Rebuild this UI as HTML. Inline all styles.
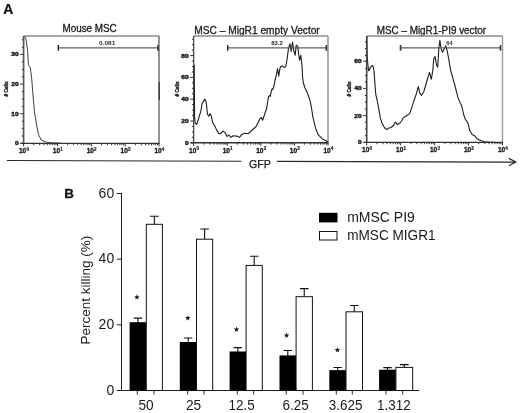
<!DOCTYPE html>
<html><head><meta charset="utf-8"><style>
html,body{margin:0;padding:0;background:#fff;}
body{width:520px;height:413px;overflow:hidden;}
svg{display:block;font-family:"Liberation Sans", sans-serif;will-change:transform;}
</style></head><body>
<svg width="520" height="413" viewBox="0 0 520 413">
<rect width="520" height="413" fill="#fff"/>
<text x="89.6" y="31.8" font-size="10" text-anchor="middle" textLength="54.2" lengthAdjust="spacingAndGlyphs" fill="#1a1a1a" stroke="#1a1a1a" stroke-width="0.3">Mouse MSC</text>
<path d="M23.6 36.0H159.0" fill="none" stroke="#8c8c8c" stroke-width="1.4"/>
<path d="M159.0 36.0V143.4" fill="none" stroke="#666" stroke-width="1.4"/>
<polyline points="23.8,36.3 24.8,36.9 26.2,40.2 27.6,51.2 28.4,64.8 30.3,67.6 31.7,78.5 33,95 34.4,111.3 36.6,125 38.5,134.6 41.3,140 45.4,142 50.8,142.8 60,143.1" fill="none" stroke="#1e1e1e" stroke-width="0.85" stroke-linejoin="round"/>
<path d="M23.6 36.0V143.70000000000002" fill="none" stroke="#5a5a5a" stroke-width="1.7"/>
<path d="M20.6 143.4H159.5" fill="none" stroke="#333" stroke-width="1.4"/>
<text x="18.6" y="145.4" font-size="5.4" font-weight="bold" text-anchor="end" textLength="3.7" lengthAdjust="spacingAndGlyphs" fill="#1a1a1a" stroke="#1a1a1a" stroke-width="0.4">0</text>
<text x="18.6" y="115.8" font-size="5.4" font-weight="bold" text-anchor="end" textLength="7.4" lengthAdjust="spacingAndGlyphs" fill="#1a1a1a" stroke="#1a1a1a" stroke-width="0.4">10</text>
<text x="18.6" y="86.1" font-size="5.4" font-weight="bold" text-anchor="end" textLength="7.4" lengthAdjust="spacingAndGlyphs" fill="#1a1a1a" stroke="#1a1a1a" stroke-width="0.4">20</text>
<text x="18.6" y="56.4" font-size="5.4" font-weight="bold" text-anchor="end" textLength="7.4" lengthAdjust="spacingAndGlyphs" fill="#1a1a1a" stroke="#1a1a1a" stroke-width="0.4">30</text>
<text x="22.6" y="153.3" font-size="6.5" font-weight="bold" text-anchor="middle" fill="#1a1a1a" stroke="#1a1a1a" stroke-width="0.3">10</text>
<text x="26.4" y="150.9" font-size="4.5" font-weight="bold" fill="#1a1a1a" stroke="#1a1a1a" stroke-width="0.2">0</text>
<text x="56.45" y="153.3" font-size="6.5" font-weight="bold" text-anchor="middle" fill="#1a1a1a" stroke="#1a1a1a" stroke-width="0.3">10</text>
<text x="60.25" y="150.9" font-size="4.5" font-weight="bold" fill="#1a1a1a" stroke="#1a1a1a" stroke-width="0.2">1</text>
<text x="90.3" y="153.3" font-size="6.5" font-weight="bold" text-anchor="middle" fill="#1a1a1a" stroke="#1a1a1a" stroke-width="0.3">10</text>
<text x="94.1" y="150.9" font-size="4.5" font-weight="bold" fill="#1a1a1a" stroke="#1a1a1a" stroke-width="0.2">2</text>
<text x="124.15" y="153.3" font-size="6.5" font-weight="bold" text-anchor="middle" fill="#1a1a1a" stroke="#1a1a1a" stroke-width="0.3">10</text>
<text x="127.95" y="150.9" font-size="4.5" font-weight="bold" fill="#1a1a1a" stroke="#1a1a1a" stroke-width="0.2">3</text>
<text x="158" y="153.3" font-size="6.5" font-weight="bold" text-anchor="middle" fill="#1a1a1a" stroke="#1a1a1a" stroke-width="0.3">10</text>
<text x="161.8" y="150.9" font-size="4.5" font-weight="bold" fill="#1a1a1a" stroke="#1a1a1a" stroke-width="0.2">4</text>
<path d="M20.1 143.4H23.6M20.1 113.8H23.6M20.1 84.1H23.6M20.1 54.4H23.6M21.8 136H23.6M21.8 128.6H23.6M21.8 121.2H23.6M21.8 106.4H23.6M21.8 99H23.6M21.8 91.6H23.6M21.8 76.8H23.6M21.8 69.4H23.6M21.8 62H23.6M21.8 47.2H23.6M21.8 39.8H23.6M23.6 143.4V146.4M33.79 143.4V145.2M39.75 143.4V145.2M43.98 143.4V145.2M47.26 143.4V145.2M49.94 143.4V145.2M52.21 143.4V145.2M54.17 143.4V145.2M55.9 143.4V145.2M57.45 143.4V146.4M67.64 143.4V145.2M73.6 143.4V145.2M77.83 143.4V145.2M81.11 143.4V145.2M83.79 143.4V145.2M86.06 143.4V145.2M88.02 143.4V145.2M89.75 143.4V145.2M91.3 143.4V146.4M101.49 143.4V145.2M107.45 143.4V145.2M111.68 143.4V145.2M114.96 143.4V145.2M117.64 143.4V145.2M119.91 143.4V145.2M121.87 143.4V145.2M123.6 143.4V145.2M125.15 143.4V146.4M135.34 143.4V145.2M141.3 143.4V145.2M145.53 143.4V145.2M148.81 143.4V145.2M151.49 143.4V145.2M153.76 143.4V145.2M155.72 143.4V145.2M157.45 143.4V145.2M159 143.4V146.4" fill="none" stroke="#333" stroke-width="1"/>
<text transform="translate(7.7,89) rotate(-90)" font-size="4.6" font-weight="bold" text-anchor="middle" textLength="15" lengthAdjust="spacingAndGlyphs" fill="#1a1a1a" stroke="#1a1a1a" stroke-width="0.35"># Cells</text>
<path d="M58.3 47.9H158.0" fill="none" stroke="#5e5e5e" stroke-width="1.35"/>
<path d="M58.3 45V50.8M158.0 45V50.8" fill="none" stroke="#333" stroke-width="1.6"/>
<text x="107.2" y="44.9" font-size="5.6" font-weight="bold" text-anchor="middle" textLength="16.2" lengthAdjust="spacingAndGlyphs" fill="#2a2a2a">0.081</text>
<text x="257.0" y="33.6" font-size="10" text-anchor="middle" textLength="125.5" lengthAdjust="spacingAndGlyphs" fill="#1a1a1a" stroke="#1a1a1a" stroke-width="0.3">MSC – MigR1 empty Vector</text>
<path d="M193.7 36.0H328.0" fill="none" stroke="#8c8c8c" stroke-width="1.4"/>
<path d="M328.0 36.0V142.8" fill="none" stroke="#888" stroke-width="1.4"/>
<polyline points="194.2,65 194.6,118.3 195.4,123.6 196.7,124.3 198.1,120.3 199.4,115.6 200.8,111.5 202.1,103.5 203.5,101.4 204.8,99.2 206.2,102.1 207.5,114.2 208.8,116.2 210.2,113.6 211.3,116.2 212.6,122.3 214.9,126.3 216.9,130.4 218.9,133.7 221,133.1 223.4,131 225.3,133.1 227,136.4 229,135.1 231,137.4 233.1,135.8 235.8,136 237.8,136.4 239.5,137.4 241.8,134.4 244.5,133.3 247.9,133.7 250.6,131.7 253.3,129 255.8,127 258.4,121.9 260.1,118.5 261.4,117.6 262.6,120.2 263.8,116.8 265.2,112.5 266.5,109.2 267.7,101.5 268.6,96.4 269.4,95.6 270.3,96.4 271.1,92.2 272,88.8 272.8,89.7 273.6,87.1 274.5,82.9 275.3,79.5 276.2,75.3 277,71.9 277.5,68.5 278.2,72.7 278.7,76.1 279.6,70.2 280.4,66.8 282.1,65.9 284.2,67.6 285.5,66.8 286.4,63.4 287.2,58 288.6,47.6 290.1,43.8 291.1,51.4 292.6,42 293.6,50.2 295.2,55.3 296.2,45.1 297.7,46.4 299.5,60.3 300.8,55.3 302,65.4 302.5,76 303.2,82.5 305,88 307,92 308.6,96.5 310.3,101.6 311.6,108.5 313,117.6 315.6,128.2 318.3,134.9 322.3,138.9 326.3,141 327.8,142" fill="none" stroke="#1e1e1e" stroke-width="1.1" stroke-linejoin="round"/>
<path d="M193.7 36.0V143.10000000000002" fill="none" stroke="#2a2a2a" stroke-width="1.1"/>
<path d="M190.7 142.8H328.5" fill="none" stroke="#333" stroke-width="1.4"/>
<text x="188.7" y="144.8" font-size="5.4" font-weight="bold" text-anchor="end" textLength="3.7" lengthAdjust="spacingAndGlyphs" fill="#1a1a1a" stroke="#1a1a1a" stroke-width="0.4">0</text>
<text x="188.7" y="123" font-size="5.4" font-weight="bold" text-anchor="end" textLength="7.4" lengthAdjust="spacingAndGlyphs" fill="#1a1a1a" stroke="#1a1a1a" stroke-width="0.4">20</text>
<text x="188.7" y="101.2" font-size="5.4" font-weight="bold" text-anchor="end" textLength="7.4" lengthAdjust="spacingAndGlyphs" fill="#1a1a1a" stroke="#1a1a1a" stroke-width="0.4">40</text>
<text x="188.7" y="79.4" font-size="5.4" font-weight="bold" text-anchor="end" textLength="7.4" lengthAdjust="spacingAndGlyphs" fill="#1a1a1a" stroke="#1a1a1a" stroke-width="0.4">60</text>
<text x="188.7" y="57.6" font-size="5.4" font-weight="bold" text-anchor="end" textLength="7.4" lengthAdjust="spacingAndGlyphs" fill="#1a1a1a" stroke="#1a1a1a" stroke-width="0.4">80</text>
<text x="192.7" y="152.7" font-size="6.5" font-weight="bold" text-anchor="middle" fill="#1a1a1a" stroke="#1a1a1a" stroke-width="0.3">10</text>
<text x="196.5" y="150.3" font-size="4.5" font-weight="bold" fill="#1a1a1a" stroke="#1a1a1a" stroke-width="0.2">0</text>
<text x="226.27" y="152.7" font-size="6.5" font-weight="bold" text-anchor="middle" fill="#1a1a1a" stroke="#1a1a1a" stroke-width="0.3">10</text>
<text x="230.07" y="150.3" font-size="4.5" font-weight="bold" fill="#1a1a1a" stroke="#1a1a1a" stroke-width="0.2">1</text>
<text x="259.85" y="152.7" font-size="6.5" font-weight="bold" text-anchor="middle" fill="#1a1a1a" stroke="#1a1a1a" stroke-width="0.3">10</text>
<text x="263.65" y="150.3" font-size="4.5" font-weight="bold" fill="#1a1a1a" stroke="#1a1a1a" stroke-width="0.2">2</text>
<text x="293.43" y="152.7" font-size="6.5" font-weight="bold" text-anchor="middle" fill="#1a1a1a" stroke="#1a1a1a" stroke-width="0.3">10</text>
<text x="297.23" y="150.3" font-size="4.5" font-weight="bold" fill="#1a1a1a" stroke="#1a1a1a" stroke-width="0.2">3</text>
<text x="327" y="152.7" font-size="6.5" font-weight="bold" text-anchor="middle" fill="#1a1a1a" stroke="#1a1a1a" stroke-width="0.3">10</text>
<text x="330.8" y="150.3" font-size="4.5" font-weight="bold" fill="#1a1a1a" stroke="#1a1a1a" stroke-width="0.2">4</text>
<path d="M190.2 142.8H193.7M190.2 121H193.7M190.2 99.2H193.7M190.2 77.4H193.7M190.2 55.6H193.7M191.89999999999998 137.35H193.7M191.89999999999998 131.9H193.7M191.89999999999998 126.45H193.7M191.89999999999998 115.55H193.7M191.89999999999998 110.1H193.7M191.89999999999998 104.65H193.7M191.89999999999998 93.75H193.7M191.89999999999998 88.3H193.7M191.89999999999998 82.85H193.7M191.89999999999998 71.95H193.7M191.89999999999998 66.5H193.7M191.89999999999998 61.05H193.7M191.89999999999998 50.15H193.7M191.89999999999998 44.7H193.7M191.89999999999998 39.25H193.7M193.7 142.8V145.8M203.81 142.8V144.6M209.72 142.8V144.6M213.91 142.8V144.6M217.17 142.8V144.6M219.83 142.8V144.6M222.07 142.8V144.6M224.02 142.8V144.6M225.74 142.8V144.6M227.27 142.8V145.8M237.38 142.8V144.6M243.29 142.8V144.6M247.49 142.8V144.6M250.74 142.8V144.6M253.4 142.8V144.6M255.65 142.8V144.6M257.6 142.8V144.6M259.31 142.8V144.6M260.85 142.8V145.8M270.96 142.8V144.6M276.87 142.8V144.6M281.06 142.8V144.6M284.32 142.8V144.6M286.98 142.8V144.6M289.22 142.8V144.6M291.17 142.8V144.6M292.89 142.8V144.6M294.43 142.8V145.8M304.53 142.8V144.6M310.44 142.8V144.6M314.64 142.8V144.6M317.89 142.8V144.6M320.55 142.8V144.6M322.8 142.8V144.6M324.75 142.8V144.6M326.46 142.8V144.6M328 142.8V145.8" fill="none" stroke="#333" stroke-width="1"/>
<text transform="translate(179.3,89) rotate(-90)" font-size="4.6" font-weight="bold" text-anchor="middle" textLength="15" lengthAdjust="spacingAndGlyphs" fill="#1a1a1a" stroke="#1a1a1a" stroke-width="0.35"># Cells</text>
<path d="M227.7 47.8H326.3" fill="none" stroke="#5e5e5e" stroke-width="1.35"/>
<path d="M227.7 44.9V50.7M326.3 44.9V50.7" fill="none" stroke="#333" stroke-width="1.6"/>
<text x="277.1" y="44.8" font-size="5.6" font-weight="bold" text-anchor="middle" textLength="11.6" lengthAdjust="spacingAndGlyphs" fill="#2a2a2a">83.2</text>
<text x="431.4" y="33.6" font-size="10" text-anchor="middle" textLength="109.4" lengthAdjust="spacingAndGlyphs" fill="#1a1a1a" stroke="#1a1a1a" stroke-width="0.3">MSC – MigR1-PI9 vector</text>
<path d="M366.7 36.0H502.5" fill="none" stroke="#8c8c8c" stroke-width="1.4"/>
<path d="M502.5 36.0V142.4" fill="none" stroke="#9a9a9a" stroke-width="1.4"/>
<polyline points="366.8,36.5 367,50 367.3,58 367.8,64 368.6,70.6 369.3,70.2 370.4,67.3 372.2,65.5 373.1,66.4 374,70.9 374.9,83.6 375.8,94.5 377.1,100 378.5,107.3 380.4,118.2 382.2,123.6 384.9,128.2 386.7,129.6 388.5,128.2 391.3,127.3 393.5,125.5 394.9,122.7 395.8,122.2 397.1,124.5 399.5,123.6 401.5,121 403.2,117.9 406.5,115.7 409.7,113.6 411.9,107.1 414,100.7 416.2,94.2 418.3,86.6 419.8,93.1 421.6,95.3 423.7,92 425.9,84.5 428,76.9 429.5,72.6 431.3,79.1 432.8,70.5 433.8,58.6 435.1,56.5 436.6,65.1 437.7,67.3 438.8,48.9 439.9,40.3 440.9,47.9 442.5,52.2 444.2,48.9 445.7,45.7 447,50 448.5,57.6 450.5,69.7 452.7,77.7 455.3,87 458,97.7 460,102.4 461.8,106 463.6,114.5 465.4,119.4 467.9,123 469.7,130.3 472.1,134.5 474.5,135.7 477,138.7 480.6,140.6 484.2,141.8 489,142.1 495,142.3" fill="none" stroke="#1e1e1e" stroke-width="1.1" stroke-linejoin="round"/>
<path d="M366.7 36.0V142.70000000000002" fill="none" stroke="#444" stroke-width="1.6"/>
<path d="M363.7 142.4H503.0" fill="none" stroke="#333" stroke-width="1.4"/>
<text x="361.7" y="144.4" font-size="5.4" font-weight="bold" text-anchor="end" textLength="3.7" lengthAdjust="spacingAndGlyphs" fill="#1a1a1a" stroke="#1a1a1a" stroke-width="0.4">0</text>
<text x="361.7" y="117.6" font-size="5.4" font-weight="bold" text-anchor="end" textLength="7.4" lengthAdjust="spacingAndGlyphs" fill="#1a1a1a" stroke="#1a1a1a" stroke-width="0.4">20</text>
<text x="361.7" y="90.4" font-size="5.4" font-weight="bold" text-anchor="end" textLength="7.4" lengthAdjust="spacingAndGlyphs" fill="#1a1a1a" stroke="#1a1a1a" stroke-width="0.4">40</text>
<text x="361.7" y="63.2" font-size="5.4" font-weight="bold" text-anchor="end" textLength="7.4" lengthAdjust="spacingAndGlyphs" fill="#1a1a1a" stroke="#1a1a1a" stroke-width="0.4">60</text>
<text x="365.7" y="152.3" font-size="6.5" font-weight="bold" text-anchor="middle" fill="#1a1a1a" stroke="#1a1a1a" stroke-width="0.3">10</text>
<text x="369.5" y="149.9" font-size="4.5" font-weight="bold" fill="#1a1a1a" stroke="#1a1a1a" stroke-width="0.2">0</text>
<text x="399.65" y="152.3" font-size="6.5" font-weight="bold" text-anchor="middle" fill="#1a1a1a" stroke="#1a1a1a" stroke-width="0.3">10</text>
<text x="403.45" y="149.9" font-size="4.5" font-weight="bold" fill="#1a1a1a" stroke="#1a1a1a" stroke-width="0.2">1</text>
<text x="433.6" y="152.3" font-size="6.5" font-weight="bold" text-anchor="middle" fill="#1a1a1a" stroke="#1a1a1a" stroke-width="0.3">10</text>
<text x="437.4" y="149.9" font-size="4.5" font-weight="bold" fill="#1a1a1a" stroke="#1a1a1a" stroke-width="0.2">2</text>
<text x="467.55" y="152.3" font-size="6.5" font-weight="bold" text-anchor="middle" fill="#1a1a1a" stroke="#1a1a1a" stroke-width="0.3">10</text>
<text x="471.35" y="149.9" font-size="4.5" font-weight="bold" fill="#1a1a1a" stroke="#1a1a1a" stroke-width="0.2">3</text>
<text x="501.5" y="152.3" font-size="6.5" font-weight="bold" text-anchor="middle" fill="#1a1a1a" stroke="#1a1a1a" stroke-width="0.3">10</text>
<text x="505.3" y="149.9" font-size="4.5" font-weight="bold" fill="#1a1a1a" stroke="#1a1a1a" stroke-width="0.2">4</text>
<path d="M363.2 142.4H366.7M363.2 115.6H366.7M363.2 88.4H366.7M363.2 61.2H366.7M364.9 135.7H366.7M364.9 129H366.7M364.9 122.3H366.7M364.9 108.9H366.7M364.9 102.2H366.7M364.9 95.5H366.7M364.9 82.1H366.7M364.9 75.4H366.7M364.9 68.7H366.7M364.9 55.3H366.7M364.9 48.6H366.7M364.9 41.9H366.7M366.7 142.4V145.4M376.92 142.4V144.2M382.9 142.4V144.2M387.14 142.4V144.2M390.43 142.4V144.2M393.12 142.4V144.2M395.39 142.4V144.2M397.36 142.4V144.2M399.1 142.4V144.2M400.65 142.4V145.4M410.87 142.4V144.2M416.85 142.4V144.2M421.09 142.4V144.2M424.38 142.4V144.2M427.07 142.4V144.2M429.34 142.4V144.2M431.31 142.4V144.2M433.05 142.4V144.2M434.6 142.4V145.4M444.82 142.4V144.2M450.8 142.4V144.2M455.04 142.4V144.2M458.33 142.4V144.2M461.02 142.4V144.2M463.29 142.4V144.2M465.26 142.4V144.2M467 142.4V144.2M468.55 142.4V145.4M478.77 142.4V144.2M484.75 142.4V144.2M488.99 142.4V144.2M492.28 142.4V144.2M494.97 142.4V144.2M497.24 142.4V144.2M499.21 142.4V144.2M500.95 142.4V144.2M502.5 142.4V145.4" fill="none" stroke="#333" stroke-width="1"/>
<text transform="translate(350.9,89) rotate(-90)" font-size="4.6" font-weight="bold" text-anchor="middle" textLength="15" lengthAdjust="spacingAndGlyphs" fill="#1a1a1a" stroke="#1a1a1a" stroke-width="0.35"># Cells</text>
<path d="M400.5 47.8H500.5" fill="none" stroke="#5e5e5e" stroke-width="1.35"/>
<path d="M400.5 44.9V50.7M500.5 44.9V50.7" fill="none" stroke="#333" stroke-width="1.6"/>
<text x="449.4" y="44.8" font-size="5.6" font-weight="bold" text-anchor="middle" textLength="6.2" lengthAdjust="spacingAndGlyphs" fill="#2a2a2a">64</text>
<path d="M159.2 82V100" stroke="#333" stroke-width="1.2"/>
<path d="M6.9 160.5L241.5 161.23M277 161.34L515.5 162.08M508.8 158.4L515.8 162.08L508.8 165.8" fill="none" stroke="#2a2a2a" stroke-width="1.2"/>
<text x="259.9" y="168.4" font-size="11.8" text-anchor="middle" textLength="22" lengthAdjust="spacingAndGlyphs" fill="#1a1a1a" stroke="#1a1a1a" stroke-width="0.25">GFP</text>
<text x="3.3" y="13.6" font-size="14" font-weight="bold" fill="#111" stroke="#111" stroke-width="0.2">A</text>
<text x="64.2" y="198.3" font-size="13.4" font-weight="bold" fill="#111" stroke="#111" stroke-width="0.3">B</text>
<path d="M121.5 192.7V390.5H419.3" fill="none" stroke="#222" stroke-width="1"/>
<text x="114.2" y="394.5" font-size="14" text-anchor="end" fill="#1a1a1a">0</text>
<text x="114.2" y="328.84" font-size="14" text-anchor="end" fill="#1a1a1a">20</text>
<text x="114.2" y="263.18" font-size="14" text-anchor="end" fill="#1a1a1a">40</text>
<text x="114.2" y="197.52" font-size="14" text-anchor="end" fill="#1a1a1a">60</text>
<path d="M116.8 390.5H121.5M116.8 324.84H121.5M116.8 259.18H121.5M116.8 193.52H121.5" fill="none" stroke="#222" stroke-width="1"/>
<text transform="translate(90.3,290.1) rotate(-90)" font-size="13.5" text-anchor="middle" fill="#1a1a1a">Percent killing (%)</text>
<path d="M137.95 322.7V318.1M133.75 318.1H142.15M154.35 224.3V216.3M150.05 216.3H158.65" fill="none" stroke="#111" stroke-width="1.1"/>
<rect x="129.6" y="322.2" width="16.7" height="68.3" fill="#000"/>
<rect x="146.3" y="224.3" width="16.1" height="166.2" fill="#fff" stroke="#111" stroke-width="1"/>
<text x="146" y="410.3" font-size="14" text-anchor="middle" textLength="15.2" lengthAdjust="spacingAndGlyphs" fill="#1a1a1a">50</text>
<polygon points="136.9,294.3 137.63,296.19 139.66,296.3 138.09,297.59 138.6,299.55 136.9,298.45 135.2,299.55 135.71,297.59 134.14,296.3 136.17,296.19" fill="#1a1a1a"/>
<path d="M188.15 342.5V338M183.95 338H192.35M204.6 239.2V229M200.3 229H208.9" fill="none" stroke="#111" stroke-width="1.1"/>
<rect x="179.8" y="342" width="16.7" height="48.5" fill="#000"/>
<rect x="196.5" y="239.2" width="16.2" height="151.3" fill="#fff" stroke="#111" stroke-width="1"/>
<text x="193.6" y="410.3" font-size="14" text-anchor="middle" textLength="15.2" lengthAdjust="spacingAndGlyphs" fill="#1a1a1a">25</text>
<polygon points="187.8,315.2 188.53,317.09 190.56,317.2 188.99,318.49 189.5,320.45 187.8,319.35 186.1,320.45 186.61,318.49 185.04,317.2 187.07,317.09" fill="#1a1a1a"/>
<path d="M237.85 352V347.6M233.65 347.6H242.05M254.2 265.4V256.2M249.9 256.2H258.5" fill="none" stroke="#111" stroke-width="1.1"/>
<rect x="229.6" y="351.5" width="16.5" height="39" fill="#000"/>
<rect x="246.1" y="265.4" width="16.2" height="125.1" fill="#fff" stroke="#111" stroke-width="1"/>
<text x="241.7" y="410.3" font-size="14" text-anchor="middle" textLength="26.2" lengthAdjust="spacingAndGlyphs" fill="#1a1a1a">12.5</text>
<polygon points="236.5,326.5 237.23,328.39 239.26,328.5 237.69,329.79 238.2,331.75 236.5,330.65 234.8,331.75 235.31,329.79 233.74,328.5 235.77,328.39" fill="#1a1a1a"/>
<path d="M287.8 355.9V350.5M283.6 350.5H292M304.25 296.7V288.6M299.95 288.6H308.55" fill="none" stroke="#111" stroke-width="1.1"/>
<rect x="279.5" y="355.4" width="16.6" height="35.1" fill="#000"/>
<rect x="296.1" y="296.7" width="16.3" height="93.8" fill="#fff" stroke="#111" stroke-width="1"/>
<text x="295.6" y="410.3" font-size="14" text-anchor="middle" textLength="26.2" lengthAdjust="spacingAndGlyphs" fill="#1a1a1a">6.25</text>
<polygon points="286.6,332.6 287.33,334.49 289.36,334.6 287.79,335.89 288.3,337.85 286.6,336.75 284.9,337.85 285.41,335.89 283.84,334.6 285.87,334.49" fill="#1a1a1a"/>
<path d="M337.65 370.6V367.5M333.45 367.5H341.85M354.25 311.8V305.5M349.95 305.5H358.55" fill="none" stroke="#111" stroke-width="1.1"/>
<rect x="329.3" y="370.1" width="16.7" height="20.4" fill="#000"/>
<rect x="346" y="311.8" width="16.5" height="78.7" fill="#fff" stroke="#111" stroke-width="1"/>
<text x="345.6" y="410.3" font-size="14" text-anchor="middle" textLength="33.6" lengthAdjust="spacingAndGlyphs" fill="#1a1a1a">3.625</text>
<polygon points="337.4,347.1 338.13,348.99 340.16,349.1 338.59,350.39 339.1,352.35 337.4,351.25 335.7,352.35 336.21,350.39 334.64,349.1 336.67,348.99" fill="#1a1a1a"/>
<path d="M387.5 370.2V367.6M383.3 367.6H391.7M404.3 367.4V364.6M400 364.6H408.6" fill="none" stroke="#111" stroke-width="1.1"/>
<rect x="379.1" y="369.7" width="16.8" height="20.8" fill="#000"/>
<rect x="395.9" y="367.4" width="16.8" height="23.1" fill="#fff" stroke="#111" stroke-width="1"/>
<text x="393.9" y="410.3" font-size="14" text-anchor="middle" textLength="33.6" lengthAdjust="spacingAndGlyphs" fill="#1a1a1a">1.312</text>
<path d="M137.3 390.5V394.5M154 390.5V394.5M187.7 390.5V394.5M204 390.5V394.5M237.3 390.5V394.5M253.7 390.5V394.5M286.3 390.5V394.5M303 390.5V394.5M336.3 390.5V394.5M352.3 390.5V394.5M386 390.5V394.5M402.7 390.5V394.5" fill="none" stroke="#222" stroke-width="1"/>
<rect x="319" y="212.8" width="18.5" height="9.6" fill="#000"/>
<rect x="319.5" y="231.5" width="17.5" height="8.5" fill="#fff" stroke="#111" stroke-width="1"/>
<text x="347.2" y="221.9" font-size="14" fill="#1a1a1a">mMSC PI9</text>
<text x="347.2" y="240.1" font-size="14" textLength="88.4" lengthAdjust="spacingAndGlyphs" fill="#1a1a1a">mMSC MIGR1</text>
</svg>
</body></html>
